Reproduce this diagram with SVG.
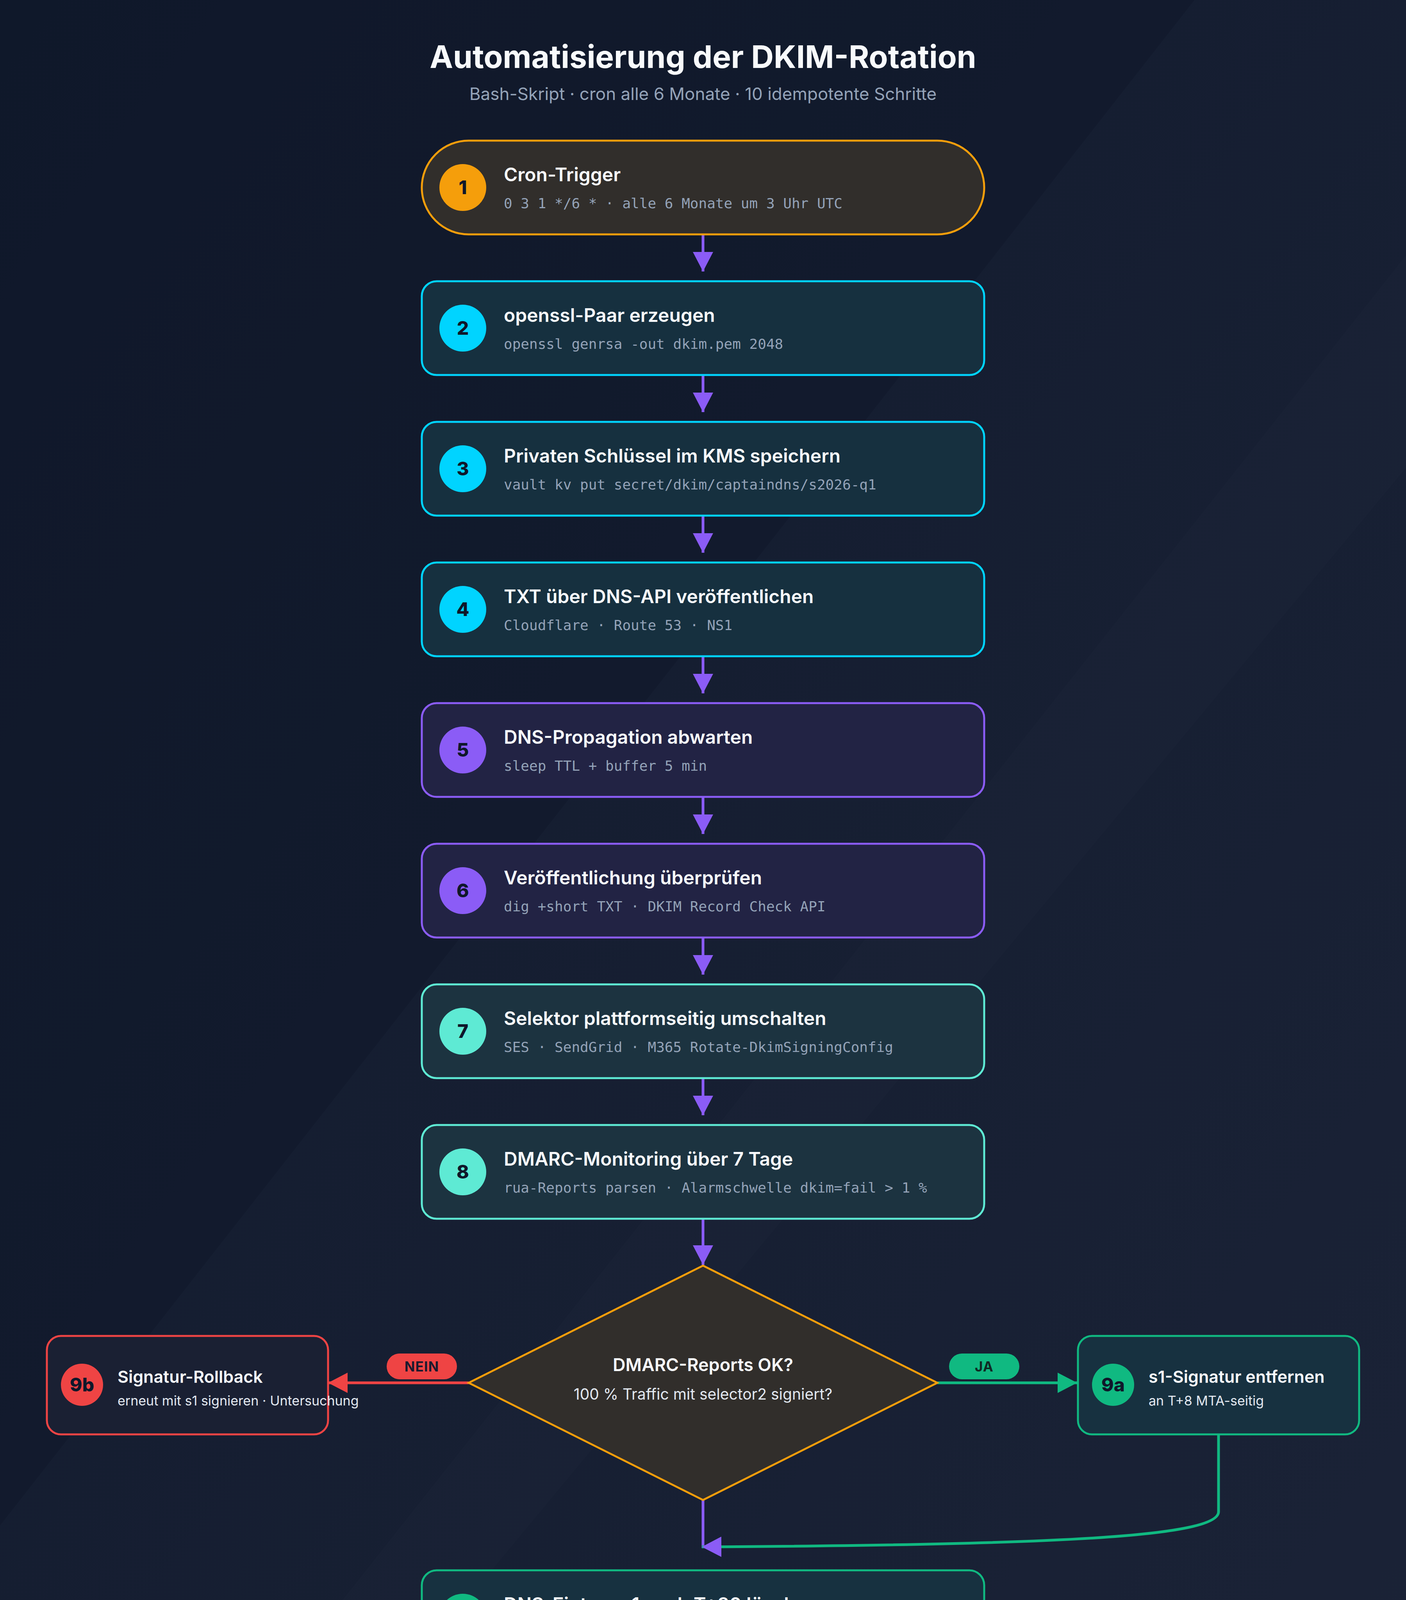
<svg xmlns="http://www.w3.org/2000/svg" width="3600" height="4800" viewBox="0 0 3600 4800">
<defs>
<linearGradient id="bg" x1="0" y1="0" x2="1" y2="1">
<stop offset="0" stop-color="#111a2d"/>
<stop offset="1" stop-color="#1b2337"/>
</linearGradient>
<marker id="mP" markerUnits="userSpaceOnUse" viewBox="0 0 50 52" refX="50" refY="26" markerWidth="50" markerHeight="52" orient="auto"><path d="M0,0 L50,26 L0,52 Z" fill="#8b5cf6"/></marker>
<marker id="mR" markerUnits="userSpaceOnUse" viewBox="0 0 50 52" refX="50" refY="26" markerWidth="50" markerHeight="52" orient="auto"><path d="M0,0 L50,26 L0,52 Z" fill="#ef4444"/></marker>
<marker id="mG" markerUnits="userSpaceOnUse" viewBox="0 0 50 52" refX="50" refY="26" markerWidth="50" markerHeight="52" orient="auto"><path d="M0,0 L50,26 L0,52 Z" fill="#10b981"/></marker>
<style>
.sans{font-family:Inter,"Noto Sans","Liberation Sans",sans-serif}
.mono{font-family:"DejaVu Sans Mono","Liberation Mono",monospace;font-size:36px;fill:#94a3b8}
.ttl{font-family:Inter,"Noto Sans","Liberation Sans",sans-serif;font-size:48px;font-weight:600;fill:#f8fafc}
.num{font-family:Inter,"Noto Sans","Liberation Sans",sans-serif;font-size:48px;font-weight:800;fill:#0f172a;text-anchor:middle}
.box{stroke-width:5}
.amber{fill:#312e2b;stroke:#f59e0b}
.cyan{fill:#16303f;stroke:#00d4ff}
.purple{fill:#222344;stroke:#8b5cf6}
.teal{fill:#1c3340;stroke:#5eead4}
.green{fill:#173140;stroke:#10b981}
.red{fill:#1a2033;stroke:#ef4444}
.conn{fill:none;stroke-width:7}
</style>
</defs>
<rect width="3600" height="4800" fill="url(#bg)"/>
<polygon points="0,0 3058,0 0,3905" fill="#0c1324" opacity="0.3"/>
<polygon points="3600,653 3600,1198 612,4800 320,4800" fill="#ffffff" opacity="0.012"/>

<text class="sans" x="1800" y="174" text-anchor="middle" font-size="80" font-weight="700" fill="#f8fafc">Automatisierung der DKIM-Rotation</text>
<text class="sans" x="1800" y="256" text-anchor="middle" font-size="44" fill="#94a3b8">Bash-Skript · cron alle 6 Monate · 10 idempotente Schritte</text>

<g id="connectors">
<line class="conn" x1="1800" y1="600" x2="1800" y2="695" stroke="#8b5cf6" marker-end="url(#mP)"/>
<line class="conn" x1="1800" y1="960" x2="1800" y2="1055" stroke="#8b5cf6" marker-end="url(#mP)"/>
<line class="conn" x1="1800" y1="1320" x2="1800" y2="1415" stroke="#8b5cf6" marker-end="url(#mP)"/>
<line class="conn" x1="1800" y1="1680" x2="1800" y2="1775" stroke="#8b5cf6" marker-end="url(#mP)"/>
<line class="conn" x1="1800" y1="2040" x2="1800" y2="2135" stroke="#8b5cf6" marker-end="url(#mP)"/>
<line class="conn" x1="1800" y1="2400" x2="1800" y2="2495" stroke="#8b5cf6" marker-end="url(#mP)"/>
<line class="conn" x1="1800" y1="2760" x2="1800" y2="2855" stroke="#8b5cf6" marker-end="url(#mP)"/>
<line class="conn" x1="1800" y1="3120" x2="1800" y2="3238" stroke="#8b5cf6" marker-end="url(#mP)"/>
<line class="conn" x1="1200" y1="3540" x2="840" y2="3540" stroke="#ef4444" marker-end="url(#mR)"/>
<line class="conn" x1="2400" y1="3540" x2="2758" y2="3540" stroke="#10b981" marker-end="url(#mG)"/>
<line class="conn" x1="1800" y1="3840" x2="1800" y2="3963" stroke="#8b5cf6"/>
<path class="conn" d="M3120,3672 V3870 C3120,3935 2700,3955 1797,3960" stroke="#10b981" marker-end="url(#mP)"/>
<line class="conn" x1="1800" y1="4260" x2="1800" y2="4355" stroke="#8b5cf6" marker-end="url(#mP)"/>
<g id="label-nein"><rect x="990" y="3465" width="180" height="66" rx="33" fill="#ef4444"/><text class="sans" x="1080" y="3511" text-anchor="middle" font-size="35" font-weight="700" fill="#1a1a2e" letter-spacing="1">NEIN</text></g>
<g id="label-ja"><rect x="2430" y="3465" width="180" height="66" rx="33" fill="#10b981"/><text class="sans" x="2520" y="3511" text-anchor="middle" font-size="35" font-weight="700" fill="#0f2a24" letter-spacing="1">JA</text></g>
</g>

<g id="node1">
<rect class="box amber" x="1080" y="360" width="1440" height="240" rx="120"/>
<circle cx="1185" cy="480" r="60" fill="#f59e0b"/>
<text class="num" x="1185" y="497">1</text>
<text class="ttl" x="1290" y="464">Cron-Trigger</text>
<text class="mono" x="1290" y="533">0 3 1 */6 * · alle 6 Monate um 3 Uhr UTC</text>
</g>
<g id="node2">
<rect class="box cyan" x="1080" y="720" width="1440" height="240" rx="38"/>
<circle cx="1185" cy="840" r="60" fill="#00d4ff"/>
<text class="num" x="1185" y="857">2</text>
<text class="ttl" x="1290" y="824">openssl-Paar erzeugen</text>
<text class="mono" x="1290" y="893">openssl genrsa -out dkim.pem 2048</text>
</g>
<g id="node3">
<rect class="box cyan" x="1080" y="1080" width="1440" height="240" rx="38"/>
<circle cx="1185" cy="1200" r="60" fill="#00d4ff"/>
<text class="num" x="1185" y="1217">3</text>
<text class="ttl" x="1290" y="1184">Privaten Schlüssel im KMS speichern</text>
<text class="mono" x="1290" y="1253">vault kv put secret/dkim/captaindns/s2026-q1</text>
</g>
<g id="node4">
<rect class="box cyan" x="1080" y="1440" width="1440" height="240" rx="38"/>
<circle cx="1185" cy="1560" r="60" fill="#00d4ff"/>
<text class="num" x="1185" y="1577">4</text>
<text class="ttl" x="1290" y="1544">TXT über DNS-API veröffentlichen</text>
<text class="mono" x="1290" y="1613">Cloudflare · Route 53 · NS1</text>
</g>
<g id="node5">
<rect class="box purple" x="1080" y="1800" width="1440" height="240" rx="38"/>
<circle cx="1185" cy="1920" r="60" fill="#8b5cf6"/>
<text class="num" x="1185" y="1937">5</text>
<text class="ttl" x="1290" y="1904">DNS-Propagation abwarten</text>
<text class="mono" x="1290" y="1973">sleep TTL + buffer 5 min</text>
</g>
<g id="node6">
<rect class="box purple" x="1080" y="2160" width="1440" height="240" rx="38"/>
<circle cx="1185" cy="2280" r="60" fill="#8b5cf6"/>
<text class="num" x="1185" y="2297">6</text>
<text class="ttl" x="1290" y="2264">Veröffentlichung überprüfen</text>
<text class="mono" x="1290" y="2333">dig +short TXT · DKIM Record Check API</text>
</g>
<g id="node7">
<rect class="box teal" x="1080" y="2520" width="1440" height="240" rx="38"/>
<circle cx="1185" cy="2640" r="60" fill="#5eead4"/>
<text class="num" x="1185" y="2657">7</text>
<text class="ttl" x="1290" y="2624">Selektor plattformseitig umschalten</text>
<text class="mono" x="1290" y="2693">SES · SendGrid · M365 Rotate-DkimSigningConfig</text>
</g>
<g id="node8">
<rect class="box teal" x="1080" y="2880" width="1440" height="240" rx="38"/>
<circle cx="1185" cy="3000" r="60" fill="#5eead4"/>
<text class="num" x="1185" y="3017">8</text>
<text class="ttl" x="1290" y="2984">DMARC-Monitoring über 7 Tage</text>
<text class="mono" x="1290" y="3053">rua-Reports parsen · Alarmschwelle dkim=fail &gt; 1 %</text>
</g>
<g id="decision">
<polygon class="box amber" points="1800,3240 2400,3540 1800,3840 1200,3540"/>
<text class="sans" x="1800" y="3510" text-anchor="middle" font-size="45" font-weight="600" fill="#f8fafc">DMARC-Reports OK?</text>
<text class="sans" x="1800" y="3583" text-anchor="middle" font-size="39" fill="#e2e8f0">100 % Traffic mit selector2 signiert?</text>
</g>
<g id="node9b">
<rect class="box red" x="120" y="3420" width="720" height="252" rx="36"/>
<circle cx="210" cy="3545" r="54" fill="#ef4444"/>
<text class="num" x="210" y="3562" font-size="46">9b</text>
<text class="sans" x="301" y="3540" font-size="43" font-weight="600" fill="#f8fafc">Signatur-Rollback</text>
<text class="sans" x="301" y="3598" font-size="34" fill="#e2e8f0">erneut mit s1 signieren · Untersuchung</text>
</g>
<g id="node9a">
<rect class="box green" x="2760" y="3420" width="720" height="252" rx="36"/>
<circle cx="2850" cy="3545" r="54" fill="#10b981"/>
<text class="num" x="2850" y="3562" font-size="46">9a</text>
<text class="sans" x="2941" y="3540" font-size="43" font-weight="600" fill="#f8fafc">s1-Signatur entfernen</text>
<text class="sans" x="2941" y="3598" font-size="34" fill="#e2e8f0">an T+8 MTA-seitig</text>
</g>
<g id="node10">
<rect class="box green" x="1080" y="4020" width="1440" height="240" rx="38"/>
<circle cx="1185" cy="4140" r="60" fill="#10b981"/>
<text class="num" x="1185" y="4157">10</text>
<text class="ttl" x="1290" y="4124">DNS-Eintrag s1 nach T+30 löschen</text>
<text class="mono" x="1290" y="4193">TXT s2025-q4 bereinigen · privaten KMS-Schlüssel vernichten</text>
</g>
<g id="end">
<rect class="box" x="1350" y="4380" width="900" height="180" rx="90" fill="#213a46" stroke="#5eead4"/>
<text class="sans" x="1800" y="4487" text-anchor="middle" font-size="47" font-weight="600" fill="#f8fafc">Rotation abgeschlossen</text>
</g>
<text class="sans" x="1800" y="4705" text-anchor="middle" font-size="40" font-weight="600" fill="#3d4759">CaptainDNS · DKIM rotation automation flowchart</text>
</svg>
